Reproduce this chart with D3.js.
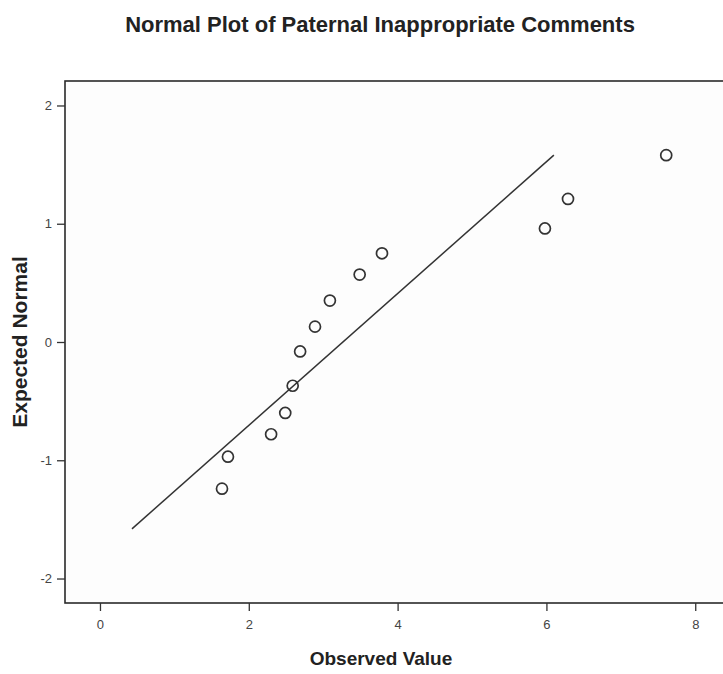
<!DOCTYPE html>
<html>
<head>
<meta charset="utf-8">
<script src="https://cdn.jsdelivr.net/npm/d3@7"></script>
<style>
  html, body { margin: 0; padding: 0; background: #fff; }
  svg { display: block; }
</style>
</head>
<body>
<svg id="chart" width="723" height="674"></svg>
<script>
// Observed values and their expected normal scores
const observed = [1.64, 1.72, 2.30, 2.49, 2.59, 2.69, 2.89, 3.09, 3.49, 3.79, 5.98, 6.29, 7.61];
const expectedNormal = [-1.24, -0.97, -0.78, -0.60, -0.37, -0.08, 0.13, 0.35, 0.57, 0.75, 0.96, 1.21, 1.58];

// Reference line endpoints (observed, expected)
const lineX = [0.43, 6.10];
const lineY = [-1.58, 1.58];

const xTicks = [0, 2, 4, 6, 8];
const yTicks = [-2, -1, 0, 1, 2];

const svg = d3.select("#chart");
const font = "'Liberation Sans', Arial, Helvetica, sans-serif";

const plotLeft = 65, plotRight = 725, plotTop = 81, plotBottom = 603;

const x = d3.scaleLinear().domain([-0.47, 8.4]).range([plotLeft, plotRight]);
const y = d3.scaleLinear().domain([-2.207, 2.207]).range([plotBottom, plotTop]);

// Plot frame
svg.append("rect")
  .attr("x", plotLeft).attr("y", plotTop)
  .attr("width", plotRight - plotLeft).attr("height", plotBottom - plotTop)
  .attr("fill", "#fdfdfd")
  .attr("stroke", "#2a2a2a").attr("stroke-width", 1.6);

// Axes (plain hyphen for negatives)
const fmt = d => String(d);
const xAxis = d3.axisBottom(x).tickValues(xTicks).tickFormat(fmt).tickSize(8).tickSizeOuter(0).tickPadding(9);
const yAxis = d3.axisLeft(y).tickValues(yTicks).tickFormat(fmt).tickSize(8).tickSizeOuter(0).tickPadding(5);

const gx = svg.append("g").attr("transform", `translate(0,${plotBottom})`).call(xAxis);
const gy = svg.append("g").attr("transform", `translate(${plotLeft},0)`).call(yAxis);

[gx, gy].forEach(g => {
  g.select(".domain").remove();
  g.selectAll(".tick line").attr("stroke", "#333").attr("stroke-width", 1.3);
  g.selectAll(".tick text")
    .attr("font-family", font).attr("font-size", 13).attr("fill", "#444");
});

// Reference line
svg.append("line")
  .attr("x1", x(lineX[0])).attr("y1", y(lineY[0]))
  .attr("x2", x(lineX[1])).attr("y2", y(lineY[1]))
  .attr("stroke", "#333").attr("stroke-width", 1.5);

// Points
svg.append("g").selectAll("circle")
  .data(observed.map((v, i) => [v, expectedNormal[i]]))
  .join("circle")
  .attr("cx", d => x(d[0])).attr("cy", d => y(d[1]))
  .attr("r", 5.5)
  .attr("fill", "none").attr("stroke", "#333").attr("stroke-width", 1.7);

// Titles
svg.append("text")
  .attr("x", 380).attr("y", 32)
  .attr("text-anchor", "middle")
  .attr("font-family", font).attr("font-weight", "bold").attr("font-size", 22)
  .attr("fill", "#222")
  .text("Normal Plot of Paternal Inappropriate Comments");

svg.append("text")
  .attr("x", 381).attr("y", 665)
  .attr("text-anchor", "middle")
  .attr("font-family", font).attr("font-weight", "bold").attr("font-size", 19)
  .attr("fill", "#222")
  .text("Observed Value");

svg.append("text")
  .attr("transform", `translate(27,${y(0.0)}) rotate(-90)`)
  .attr("text-anchor", "middle")
  .attr("font-family", font).attr("font-weight", "bold").attr("font-size", 21)
  .attr("fill", "#222")
  .text("Expected Normal");
</script>
</body>
</html>
